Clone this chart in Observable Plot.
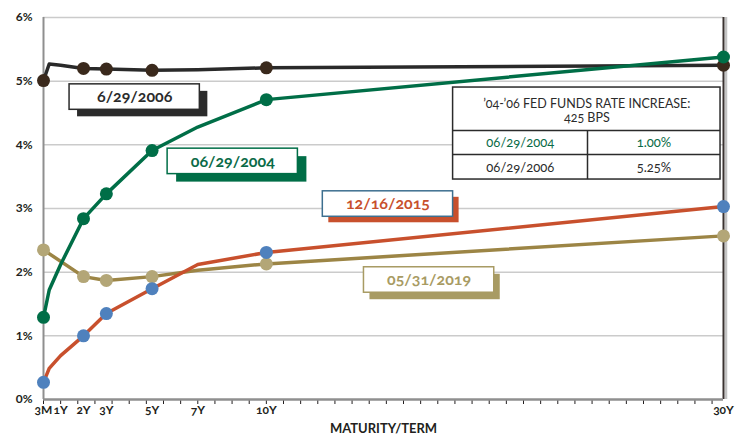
<!DOCTYPE html>
<html><head><meta charset="utf-8">
<script src="https://cdn.jsdelivr.net/npm/d3@7"></script>
<script src="https://cdn.jsdelivr.net/npm/@observablehq/plot@0.6"></script>
<style>
body{margin:0;background:#fff;}
#chart svg{font-family:Lato,"DejaVu Sans",sans-serif;font-variant-numeric:oldstyle-nums;}
g[aria-label="box-label"] text{letter-spacing:2.2px;}
g[aria-label="table-text"] text{letter-spacing:1px;}
g[aria-label="axis-title"] text{letter-spacing:1px;}
g[aria-label="x-tick-label"] text{letter-spacing:0.5px;}
</style></head><body><div id="chart"></div><script>
// ---- data ----
const tenors = [0.25, 0.5, 1, 2, 3, 5, 7, 10, 30];
const y2006 = [5.01, 5.27, 5.25, 5.20, 5.19, 5.17, 5.18, 5.21, 5.25];
const y2004 = [1.29, 1.72, 2.12, 2.84, 3.23, 3.91, 4.28, 4.71, 5.38];
const y2015 = [0.27, 0.49, 0.69, 1.00, 1.35, 1.74, 2.12, 2.31, 3.03];
const y2019 = [2.35, null, null, 1.93, 1.87, 1.93, 2.03, 2.13, 2.57];
const markerTenors = [0.25, 2, 3, 5, 10, 30];
const xTickValues = [0.25, 1, 2, 3, 5, 7, 10, 30];
const xTickLabels = ["3M", "1Y", "2Y", "3Y", "5Y", "7Y", "10Y", "30Y"];
const yTickValues = [0, 1, 2, 3, 4, 5, 6];
const tableHeader = ["\u201904-\u201906 FED FUNDS RATE INCREASE:", "425 BPS"];
const tableDates = ["06/29/2004", "06/29/2006"];
const tableRates = ["1.00%", "5.25%"];

const rows = (vals) => tenors.map((t, i) => ({x: t, y: vals[i]})).filter(d => d.y != null);
const markers = (vals) => rows(vals).filter(d => markerTenors.includes(d.x));

const series = [
  {name: "05/31/2019", vals: y2019, line: "#9c8545", dot: "#b3a677", text: "#a89b63", shadow: "#a89b63", border: "#a89b63", lx: 17.12, ly: 1.877, sdx: 6, sdy: 7},
  {name: "12/16/2015", vals: y2015, line: "#c8502d", dot: "#4f81bd", text: "#c8502d", shadow: "#c8502d", border: "#3d6f8f", lx: 15.32, ly: 3.07, sdx: 6, sdy: 6},
  {name: "6/29/2006", vals: y2006, line: "#2a2a2a", dot: "#3a291c", text: "#2b2b2b", shadow: "#2b2b2b", border: "#2b2b2b", lx: 4.24, ly: 4.75, sdx: 8, sdy: 7},
  {name: "06/29/2004", vals: y2004, line: "#006e47", dot: "#006e47", text: "#0a6b47", shadow: "#006e47", border: "#006e47", lx: 8.53, ly: 3.74, sdx: 9, sdy: 8}
];

const labelMap = new Map(xTickValues.map((v, i) => [v, xTickLabels[i]]));
const minorTicks = d3.range(0.25, 30, 0.75);

const hw = 2.85, hh = 0.2; // label box half-size in data units
const tX1 = 18.17, tX2 = 29.87, tXm = 24.05, tTop = 4.90, tHead = 4.225, tMid = 3.848, tBot = 3.455;

const marks = [
  Plot.ruleY(yTickValues.filter(d => d > 0), {stroke: "#cbcbcb", strokeWidth: 1.5}),
  Plot.ruleX([0.25], {stroke: "#8f8f8f", strokeWidth: 2}),
  Plot.ruleX([30], {stroke: "#c4c4c4", strokeWidth: 2.5, dx: 2.5}),
  Plot.ruleX([30], {stroke: "#3a3230", strokeWidth: 2}),
  Plot.ruleY([0], {stroke: "#8f8f8f", strokeWidth: 2.5}),
  Plot.text(xTickValues, {x: d => d, frameAnchor: "bottom", dy: 14, text: d => labelMap.get(d), fontSize: 12, fontWeight: "bold", fill: "#231f20", ariaLabel: "x-tick-label"}),
  Plot.text(["MATURITY/TERM"], {frameAnchor: "bottom", dy: 33, text: d => d, fontSize: 13, fontWeight: "bold", fill: "#231f20", ariaLabel: "axis-title"}),
  ...series.map(s => Plot.line(rows(s.vals), {x: "x", y: "y", stroke: s.line, strokeWidth: 3.5, strokeLinejoin: "round"})),
  ...series.map(s => Plot.dot(markers(s.vals), {x: "x", y: "y", r: 6.5, fill: s.dot})),
  ...series.flatMap(s => [
    Plot.rect([s], {x1: d => d.lx - hw, x2: d => d.lx + hw, y1: d => d.ly - hh, y2: d => d.ly + hh, fill: s.shadow, dx: s.sdx, dy: s.sdy}),
    Plot.rect([s], {x1: d => d.lx - hw, x2: d => d.lx + hw, y1: d => d.ly - hh, y2: d => d.ly + hh, fill: "white", stroke: s.border, strokeWidth: 1.5}),
    Plot.text([s], {x: "lx", y: "ly", text: "name", fill: s.text, fontSize: 16, fontWeight: "bold", ariaLabel: "box-label"})
  ]),
  // table
  Plot.rect([0], {x1: tX1, x2: tX2, y1: tBot, y2: tTop, fill: "white", stroke: "#2b2b2b", strokeWidth: 1.5}),
  Plot.ruleY([tHead, tMid], {x1: tX1, x2: tX2, stroke: "#2b2b2b", strokeWidth: 1.5}),
  Plot.ruleX([tXm], {y1: tBot, y2: tHead, stroke: "#2b2b2b", strokeWidth: 1.5}),
  Plot.text(tableHeader, {x: (tX1 + tX2) / 2, y: (d, i) => i === 0 ? 4.649 : 4.429, text: d => d, fontSize: 12.5, fontWeight: "normal", fill: "#2b2b2b", ariaLabel: "table-text"}),
  Plot.text(tableDates, {x: (tX1 + tXm) / 2, y: (d, i) => i === 0 ? 4.03 : 3.64, text: d => d, fontSize: 13, fontWeight: "normal", fill: (d, i) => i === 0 ? "#0a6b47" : "#2b2b2b", ariaLabel: "table-text"}),
  Plot.text(tableRates, {x: (tXm + tX2) / 2, y: (d, i) => i === 0 ? 4.03 : 3.64, text: d => d, fontSize: 13, fontWeight: "normal", fill: (d, i) => i === 0 ? "#0a6b47" : "#2b2b2b", ariaLabel: "table-text"})
];

const chart = Plot.plot({
  width: 746, height: 439,
  marginLeft: 43, marginRight: 23, marginTop: 17, marginBottom: 40,
  style: {fontFamily: "Lato, 'DejaVu Sans', sans-serif", fontSize: "12px", fontWeight: "bold", color: "#231f20", background: "white"},
  x: {domain: [0.25, 30], ticks: minorTicks, tickFormat: () => "", tickSize: 5, label: null},
  y: {domain: [0, 6], ticks: yTickValues, tickFormat: d => d + "%", tickSize: 0, tickPadding: 11, label: null},
  color: {type: "identity"},
  marks
});
document.getElementById("chart").appendChild(chart);
</script></body></html>
